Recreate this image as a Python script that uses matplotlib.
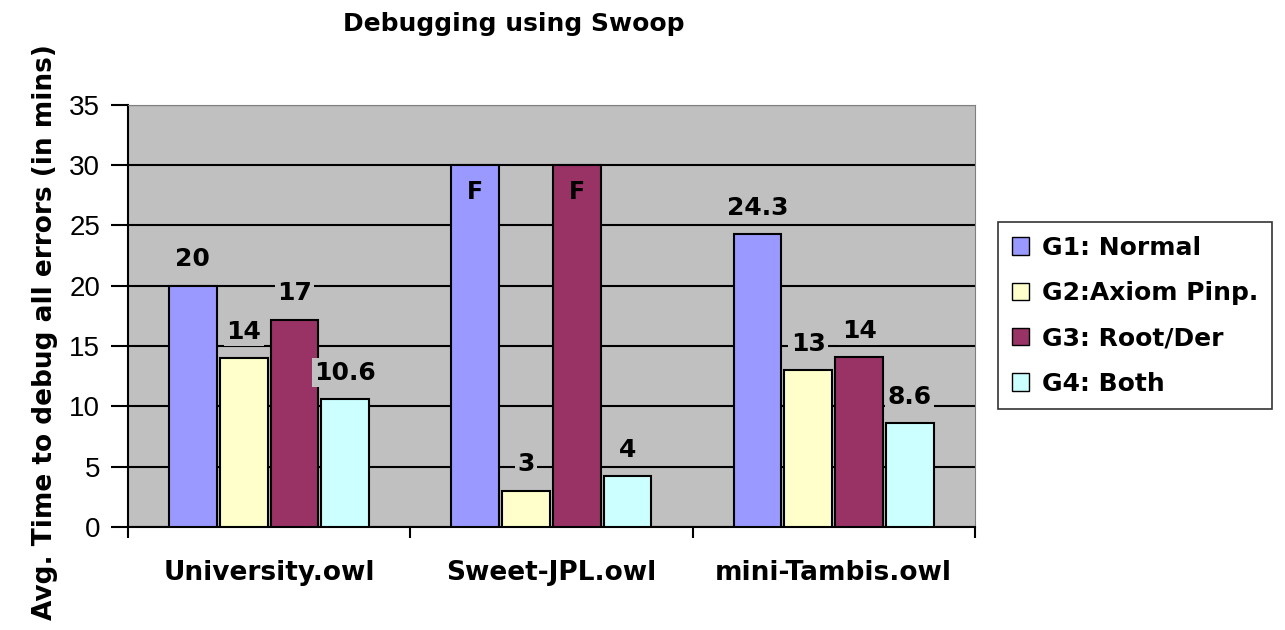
import numpy as np
import matplotlib.pyplot as plt
from matplotlib.patches import Patch

# data
categories = ["University.owl", "Sweet-JPL.owl", "mini-Tambis.owl"]
groups = ["G1: Normal", "G2:Axiom Pinp.", "G3: Root/Der", "G4: Both"]
g1 = [20, 30, 24.3]
g2 = [14, 3, 13]
g3 = [17.2, 30, 14.1]
g4 = [10.6, 4.2, 8.6]
labels_g1 = ["20", "F", "24.3"]
labels_g2 = ["14", "3", "13"]
labels_g3 = ["17", "F", "14"]
labels_g4 = ["10.6", "4", "8.6"]
colors = ["#9999FF", "#FFFFCC", "#993366", "#CCFFFF"]

series = [g1, g2, g3, g4]
series_labels = [labels_g1, labels_g2, labels_g3, labels_g4]

fig = plt.figure(figsize=(12.85, 6.3), dpi=100)
ax = fig.add_axes([0.0996, 0.1635, 0.659, 0.67])
ax.set_facecolor("#C0C0C0")

x = np.arange(len(categories))
w = 0.18
for i, (vals, labs) in enumerate(zip(series, series_labels)):
    pos = x + (i - 1.5) * w
    ax.bar(pos, vals, width=w * 0.94, color=colors[i], edgecolor="black",
           linewidth=1.5, zorder=3)
    for p, v, lab in zip(pos, vals, labs):
        if lab == "F":
            ax.annotate(lab, (p, v), xytext=(0, -19), textcoords="offset points",
                        ha="center", va="center", fontsize=17, fontweight="bold",
                        zorder=5)
        else:
            ax.annotate(lab, (p, v), xytext=(0, 19), textcoords="offset points",
                        ha="center", va="center", fontsize=18, fontweight="bold",
                        zorder=5,
                        bbox=dict(boxstyle="square,pad=0.1", fc="#C0C0C0", ec="none"))

ax.set_xlim(-0.5, 2.5)
ax.set_ylim(0, 35)
ax.set_yticks(np.arange(0, 36, 5))
ax.yaxis.grid(True, color="black", linewidth=1.5, zorder=1)
ax.set_axisbelow(True)
for s in ["top", "right"]:
    ax.spines[s].set_color("#808080")
for s in ["left", "bottom"]:
    ax.spines[s].set_linewidth(1.5)

ax.set_xticks([-0.5, 0.5, 1.5, 2.5])
ax.set_xticklabels([])
ax.set_xticks(x, minor=True)
ax.set_xticklabels(categories, minor=True, fontsize=19, fontweight="bold")
ax.tick_params(axis="x", which="major", length=8, width=1.5, direction="out")
ax.tick_params(axis="x", which="minor", length=0, pad=24)
ax.tick_params(axis="y", length=12, width=1.5, labelsize=20, pad=8)
for t in ax.get_yticklabels():
    t.set_fontfamily("Liberation Sans")

fig.text(0.4, 0.962, "Debugging using Swoop", ha="center", va="center",
         fontsize=18, fontweight="bold")
fig.text(0.035, 0.473, "Avg. Time to debug all errors (in mins)", rotation=90,
         ha="center", va="center", fontsize=19, fontweight="bold")

handles = [Patch(facecolor=c, edgecolor="black") for c in colors]
leg = fig.legend(handles, groups, loc="upper left", bbox_to_anchor=(0.7767, 0.6476),
                 prop={"weight": "bold", "size": 18}, frameon=True,
                 fancybox=False, edgecolor="black", handlelength=0.7,
                 handleheight=0.7, labelspacing=0.85, borderpad=0.55,
                 handletextpad=0.5, borderaxespad=0)
leg.get_frame().set_linewidth(1.2)

fig.savefig("out.png", dpi=100)
